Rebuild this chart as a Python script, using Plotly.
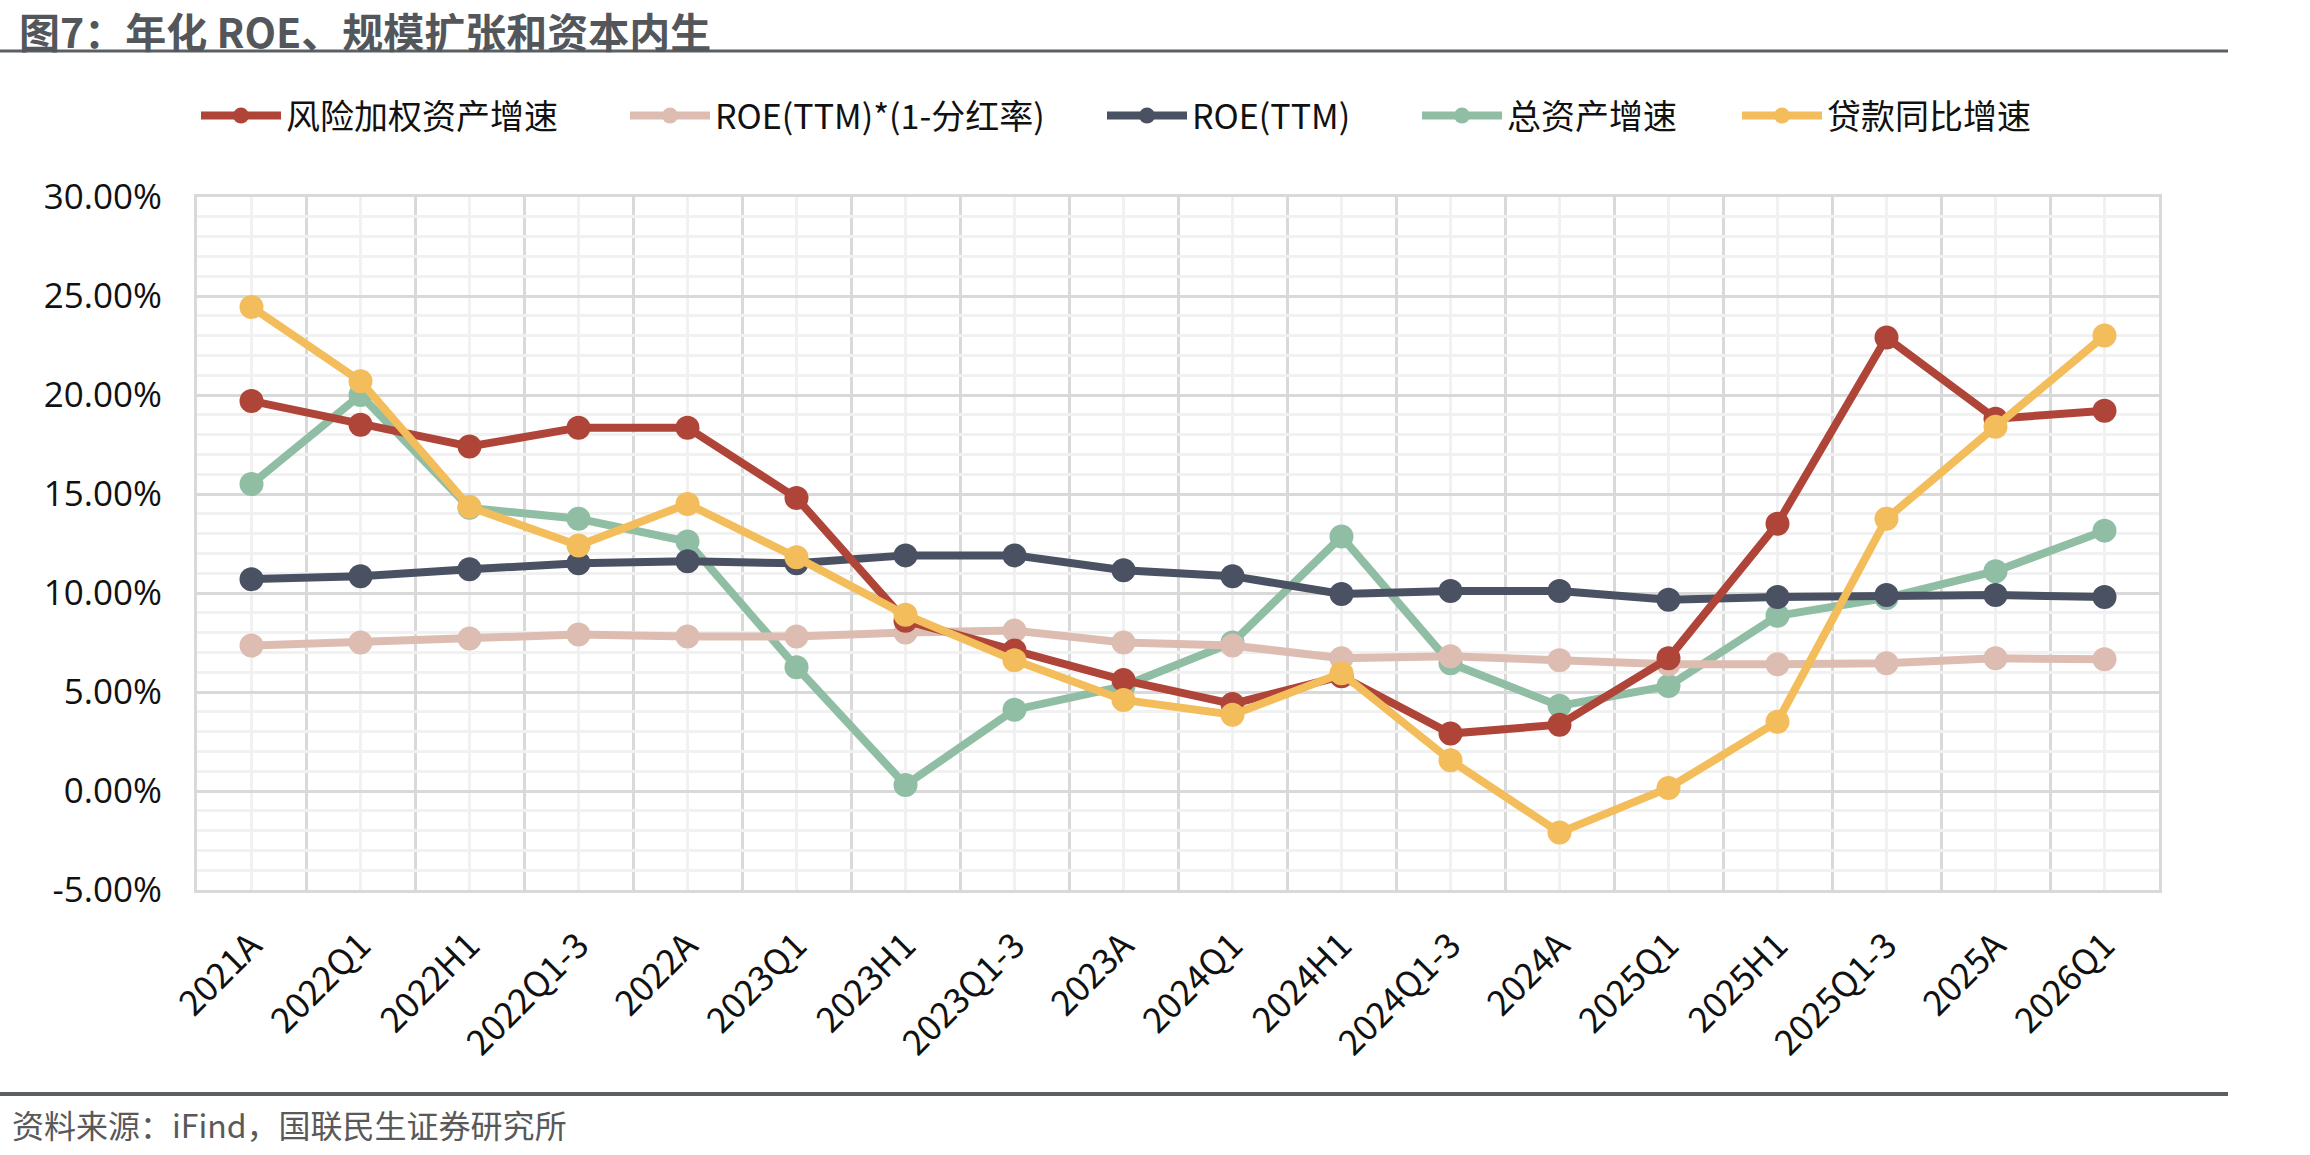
import plotly.graph_objects as go

categories = ["2021A", "2022Q1", "2022H1", "2022Q1-3", "2022A", "2023Q1", "2023H1", "2023Q1-3",
              "2023A", "2024Q1", "2024H1", "2024Q1-3", "2024A", "2025Q1", "2025H1", "2025Q1-3",
              "2025A", "2026Q1"]

rwa_growth = [19.7, 18.5, 17.4, 18.35, 18.35, 14.8, 8.6, 7.1, 5.6, 4.4, 5.8, 2.9, 3.35, 6.7, 13.5, 22.9, 18.8, 19.2]
roe_retained = [7.35, 7.5, 7.7, 7.9, 7.8, 7.8, 8.0, 8.1, 7.5, 7.35, 6.7, 6.8, 6.6, 6.4, 6.4, 6.45, 6.7, 6.65]
roe_ttm = [10.7, 10.85, 11.2, 11.5, 11.6, 11.5, 11.9, 11.9, 11.15, 10.85, 9.95, 10.1, 10.1, 9.66, 9.8, 9.9, 9.9, 9.8]
asset_growth = [15.5, 20.0, 14.3, 13.75, 12.6, 6.25, 0.3, 4.1, 5.3, 7.5, 12.85, 6.45, 4.3, 5.3, 8.85, 9.75, 11.1, 13.15]
loan_growth = [24.45, 20.7, 14.35, 12.4, 14.5, 11.8, 8.9, 6.6, 4.6, 3.85, 5.95, 1.55, -2.1, 0.15, 3.5, 13.75, 18.4, 23.0]

series_names = ["风险加权资产增速", "ROE(TTM)*(1-分红率)", "ROE(TTM)", "总资产增速", "贷款同比增速"]
series_values = [rwa_growth, roe_retained, roe_ttm, asset_growth, loan_growth]
series_colors = ["#AF4538", "#DDBDB1", "#4A5163", "#90BEA4", "#F3BD5B"]

y_tickvals = [-5, 0, 5, 10, 15, 20, 25, 30]
y_ticktext = ["-5.00%", "0.00%", "5.00%", "10.00%", "15.00%", "20.00%", "25.00%", "30.00%"]

title_text = "图7：年化 ROE、规模扩张和资本内生"
source_text = "资料来源：iFind，国联民生证券研究所"

W, H = 2310, 1155
L, R, T, B = 197, 2159, 197, 890
pw, ph = R - L, B - T

def px_x(x):
    return (x - L) / pw

def px_y(y):
    return (B - y) / ph

xs = list(range(len(categories)))
legend_starts = [202, 631, 1108, 1423, 1743]

fig = go.Figure()
order = [3, 1, 2, 0, 4]
for i in order:
    fig.add_trace(go.Scatter(
        x=xs, y=series_values[i], name=series_names[i], mode="lines+markers",
        line=dict(color=series_colors[i], width=8),
        marker=dict(color=series_colors[i], size=24),
        legend="legend" if i == 0 else f"legend{i+1}",
        cliponaxis=False,
    ))

font_cjk = "Noto Sans CJK SC"
legend_common = dict(orientation="h", yanchor="middle", xanchor="left",
                     font=dict(family=font_cjk, size=34, color="#111111"),
                     bgcolor="rgba(0,0,0,0)", itemwidth=80, borderwidth=0)
legends = {}
for i, sx in enumerate(legend_starts):
    key = "legend" if i == 0 else f"legend{i+1}"
    legends[key] = dict(legend_common, x=px_x(sx - 6), y=px_y(116))

fig.update_layout(
    width=W, height=H,
    margin=dict(l=L, r=W - R, t=T, b=H - B),
    paper_bgcolor="white", plot_bgcolor="white",
    xaxis=dict(
        range=[-0.5, len(categories) - 0.5],
        tickmode="array", tickvals=xs, ticktext=categories, tickangle=-45,
        showgrid=True, gridcolor="#F1F1F1", gridwidth=3,
        minor=dict(tickmode="array", tickvals=[v + 0.5 for v in xs[:-1]],
                   showgrid=True, gridcolor="#D9D9D9", gridwidth=3, ticks=""),
        showline=True, linecolor="#D9D9D9", linewidth=3, mirror=True,
        ticks="outside", ticklen=18, tickcolor="rgba(0,0,0,0)",
        tickfont=dict(family=font_cjk, size=35, color="#111111"),
        zeroline=False, fixedrange=True,
    ),
    yaxis=dict(
        range=[-5, 30],
        tickmode="array", tickvals=y_tickvals, ticktext=y_ticktext,
        showgrid=True, gridcolor="#D9D9D9", gridwidth=3,
        minor=dict(tickmode="linear", tick0=0, dtick=1, showgrid=True,
                   gridcolor="#F1F1F1", gridwidth=3, ticks=""),
        showline=True, linecolor="#D9D9D9", linewidth=3, mirror=True,
        ticks="outside", ticklen=25, tickcolor="rgba(0,0,0,0)",
        tickfont=dict(family="Open Sans", size=35, color="#111111"),
        zeroline=False, fixedrange=True,
    ),
    showlegend=True,
    **legends,
)

fig.add_annotation(text="<b>" + title_text + "</b>", xref="paper", yref="paper",
                   x=px_x(18), y=px_y(30), xanchor="left", yanchor="middle",
                   showarrow=False, borderpad=0,
                   font=dict(family=font_cjk, size=41, color="#53575B"))
fig.add_shape(type="line", xref="paper", yref="paper",
              x0=px_x(0), x1=px_x(2228), y0=px_y(51), y1=px_y(51),
              line=dict(color="#5A5F63", width=3))
fig.add_shape(type="line", xref="paper", yref="paper",
              x0=px_x(0), x1=px_x(2228), y0=px_y(1094), y1=px_y(1094),
              line=dict(color="#5A5F63", width=4))
fig.add_annotation(text=source_text, xref="paper", yref="paper",
                   x=px_x(10), y=px_y(1124), xanchor="left", yanchor="middle",
                   showarrow=False, font=dict(family=font_cjk, size=32, color="#595959"))

fig.write_html("out.html")
